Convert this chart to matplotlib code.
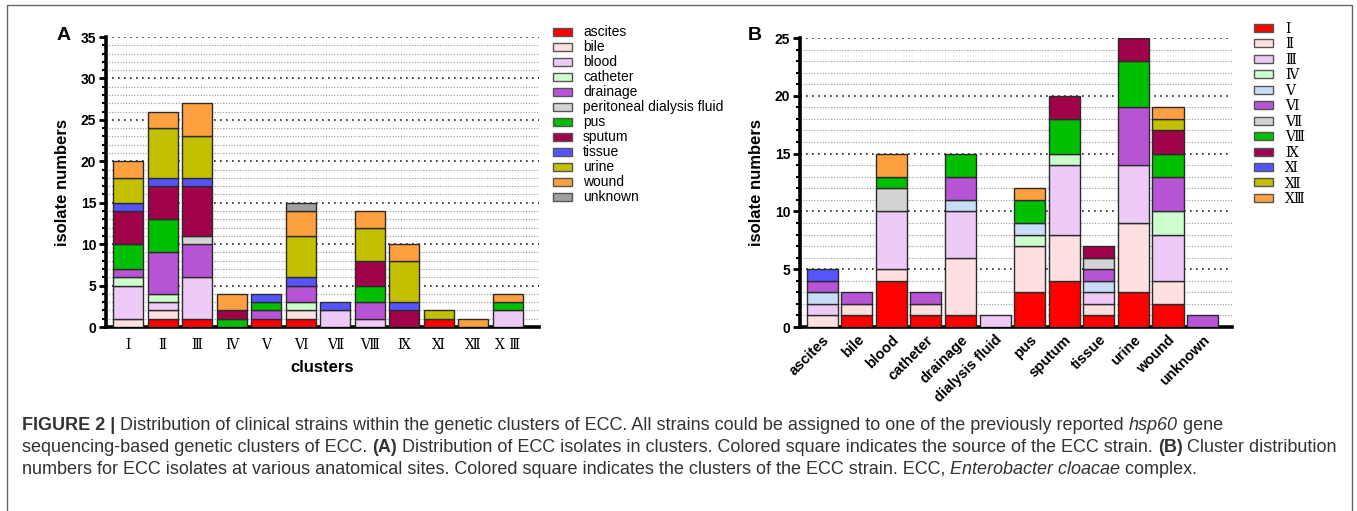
import numpy as np
import matplotlib
matplotlib.use('Agg')
import matplotlib.pyplot as plt
from matplotlib.patches import Rectangle
from matplotlib.ticker import MultipleLocator

plt.rcParams['font.family'] = ['Liberation Sans', 'DejaVu Sans']

# ---- panel A: sources stacked inside each cluster ----
sources = ['ascites', 'bile', 'blood', 'catheter', 'drainage', 'peritoneal dialysis fluid',
           'pus', 'sputum', 'tissue', 'urine', 'wound', 'unknown']
source_colors = ['#FF0000', '#FFE0E0', '#EECBF7', '#CCFFCC', '#B755D6', '#D3D3D3',
                 '#00BF00', '#A0034A', '#5555FF', '#C2C000', '#FFA040', '#A0A0A0']
clusters_a = ['Ⅰ', 'Ⅱ', 'Ⅲ', 'Ⅳ', 'Ⅴ', 'Ⅵ', 'Ⅶ', 'Ⅷ', 'Ⅸ', 'Ⅺ', 'Ⅻ', 'X Ⅲ']

ascites  = [0, 1, 1, 0, 1, 1, 0, 0, 0, 1, 0, 0]
bile     = [1, 1, 0, 0, 0, 1, 0, 0, 0, 0, 0, 0]
blood    = [4, 1, 5, 0, 0, 0, 2, 1, 0, 0, 0, 2]
catheter = [1, 1, 0, 0, 0, 1, 0, 0, 0, 0, 0, 0]
drainage = [1, 5, 4, 0, 1, 2, 0, 2, 0, 0, 0, 0]
dialysis = [0, 0, 1, 0, 0, 0, 0, 0, 0, 0, 0, 0]
pus      = [3, 4, 0, 1, 1, 0, 0, 2, 0, 0, 0, 1]
sputum   = [4, 4, 6, 1, 0, 0, 0, 3, 2, 0, 0, 0]
tissue   = [1, 1, 1, 0, 1, 1, 1, 0, 1, 0, 0, 0]
urine    = [3, 6, 5, 0, 0, 5, 0, 4, 5, 1, 0, 0]
wound    = [2, 2, 4, 2, 0, 3, 0, 2, 2, 0, 1, 1]
unknown  = [0, 0, 0, 0, 0, 1, 0, 0, 0, 0, 0, 0]
counts_a = [ascites, bile, blood, catheter, drainage, dialysis,
            pus, sputum, tissue, urine, wound, unknown]

# ---- panel B: clusters stacked inside each site ----
sites_b = ['ascites', 'bile', 'blood', 'catheter', 'drainage', 'dialysis fluid',
           'pus', 'sputum', 'tissue', 'urine', 'wound', 'unknown']
clusters_b = ['Ⅰ', 'Ⅱ', 'Ⅲ', 'Ⅳ', 'Ⅴ', 'Ⅵ', 'Ⅶ', 'Ⅷ', 'Ⅸ', 'Ⅺ', 'Ⅻ', 'ⅩⅢ']
cluster_colors = ['#FF0000', '#FFE0E0', '#EECBF7', '#CCFFCC', '#C8DEF8', '#B755D6',
                  '#D3D3D3', '#00BF00', '#A0034A', '#5555FF', '#C2C000', '#FFA040']

c1  = [0, 1, 4, 1, 1, 0, 3, 4, 1, 3, 2, 0]
c2  = [1, 1, 1, 1, 5, 0, 4, 4, 1, 6, 2, 0]
c3  = [1, 0, 5, 0, 4, 1, 0, 6, 1, 5, 4, 0]
c4  = [0, 0, 0, 0, 0, 0, 1, 1, 0, 0, 2, 0]
c5  = [1, 0, 0, 0, 1, 0, 1, 0, 1, 0, 0, 0]
c6  = [1, 1, 0, 1, 2, 0, 0, 0, 1, 5, 3, 1]
c7  = [0, 0, 2, 0, 0, 0, 0, 0, 1, 0, 0, 0]
c8  = [0, 0, 1, 0, 2, 0, 2, 3, 0, 4, 2, 0]
c9  = [0, 0, 0, 0, 0, 0, 0, 2, 1, 2, 2, 0]
c11 = [1, 0, 0, 0, 0, 0, 0, 0, 0, 0, 0, 0]
c12 = [0, 0, 0, 0, 0, 0, 0, 0, 0, 0, 1, 0]
c13 = [0, 0, 2, 0, 0, 0, 1, 0, 0, 0, 1, 0]
counts_b = [c1, c2, c3, c4, c5, c6, c7, c8, c9, c11, c12, c13]

roman_font = ['DejaVu Serif', 'Noto Sans CJK SC']

W, H = 1357, 511
fig = plt.figure(figsize=(W / 100, H / 100), dpi=100)


def px_axes(x0, y0, x1, y1):
    return fig.add_axes([x0 / W, 1 - y1 / H, (x1 - x0) / W, (y1 - y0) / H])


def stacked(ax, counts, colors, width):
    x = np.arange(len(counts[0]))
    bottom = np.zeros(len(x))
    for vals, col in zip(counts, colors):
        vals = np.array(vals, dtype=float)
        m = vals > 0
        ax.bar(x[m], vals[m], width, bottom=bottom[m], color=col,
               edgecolor='#2b2b2b', linewidth=1, zorder=3)
        bottom += vals
    return x


def style(ax, ymax):
    ax.set_ylim(0, ymax)
    ax.yaxis.set_major_locator(MultipleLocator(5))
    ax.yaxis.set_minor_locator(MultipleLocator(1))
    ax.grid(axis='y', which='major', color='#222222', lw=1.2, linestyle=(0, (1, 2.6)))
    ax.grid(axis='y', which='minor', color='#999999', lw=0.8, linestyle=(0, (1, 1.5)))
    ax.set_axisbelow(True)
    for s in ['top', 'right']:
        ax.spines[s].set_visible(False)
    ax.spines['left'].set_linewidth(2.6)
    ax.spines['bottom'].set_linewidth(2.6)
    ax.tick_params(axis='y', which='major', length=5, width=2, labelsize=10, pad=2)
    ax.tick_params(axis='y', which='minor', length=3, width=1.5)
    ax.tick_params(axis='x', length=0)
    for t in ax.get_yticklabels():
        t.set_fontweight('bold')
    ax.set_ylabel('isolate numbers', fontsize=12, fontweight='bold', labelpad=8)


# panel A
axA = px_axes(106, 37, 539, 327)
xa = stacked(axA, counts_a, source_colors, 0.87)
axA.set_xlim(-0.64, 11.91)
style(axA, 35)
axA.set_xticks(xa)
axA.set_xticklabels(clusters_a, family=roman_font, fontsize=10)
axA.tick_params(axis='x', pad=8)
axA.set_xlabel('clusters', fontsize=12, fontweight='bold', labelpad=6)

# panel B
axB = px_axes(800, 38, 1232, 327)
xb = stacked(axB, counts_b, cluster_colors, 0.9)
axB.set_xlim(-0.64, 11.85)
style(axB, 25)
axB.set_xticks(xb)
axB.set_xticklabels(sites_b, rotation=45, ha='right', rotation_mode='anchor',
                    fontsize=10.5, fontweight='bold')
axB.tick_params(axis='x', pad=4)

# overlay for legends, letters, caption, frame
ov = fig.add_axes([0, 0, 1, 1])
ov.set_xlim(0, W)
ov.set_ylim(H, 0)
ov.axis('off')

ov.add_patch(Rectangle((7, 5), 1345, 540, fill=False, edgecolor='#666666', lw=1, clip_on=False))
ov.text(57, 40, 'A', fontsize=14, fontweight='bold', va='baseline')
ov.text(748, 40, 'B', fontsize=14, fontweight='bold', va='baseline')

for i, (lab, col) in enumerate(zip(sources, source_colors)):
    y = 32 + i * 15
    ov.add_patch(Rectangle((553, y - 4), 19, 8, facecolor=col, edgecolor='#555555', lw=1))
    ov.text(583, y, lab, fontsize=10, va='center')

for i, (lab, col) in enumerate(zip(clusters_b, cluster_colors)):
    y = 28 + i * 15.45
    ov.add_patch(Rectangle((1254, y - 4), 19, 8, facecolor=col, edgecolor='#555555', lw=1))
    ov.text(1285, y + 1, lab, fontsize=10, va='center', family=roman_font)

cap_color = '#333333'
cap_size = 13
lines = [
    [('FIGURE 2 |', 'bold', 'normal'),
     (' Distribution of clinical strains within the genetic clusters of ECC. All strains could be '
      'assigned to one of the previously reported ', 'normal', 'normal'),
     ('hsp60', 'normal', 'italic'), (' gene', 'normal', 'normal')],
    [('sequencing-based genetic clusters of ECC. ', 'normal', 'normal'), ('(A)', 'bold', 'normal'),
     (' Distribution of ECC isolates in clusters. Colored square indicates the source of the ECC '
      'strain. ', 'normal', 'normal'), ('(B)', 'bold', 'normal'),
     (' Cluster distribution', 'normal', 'normal')],
    [('numbers for ECC isolates at various anatomical sites. Colored square indicates the clusters '
      'of the ECC strain. ECC, ', 'normal', 'normal'),
     ('Enterobacter cloacae', 'normal', 'italic'), (' complex.', 'normal', 'normal')],
]
for li, parts in enumerate(lines):
    ybot = 434 + li * 22
    prev = None
    for s, w, st in parts:
        if prev is None:
            prev = ov.text(22, ybot, s, fontsize=cap_size, fontweight=w, style=st,
                           color=cap_color, va='bottom')
        else:
            prev = ov.annotate(s, xy=(1, 0), xycoords=prev, fontsize=cap_size, fontweight=w,
                               style=st, color=cap_color, va='bottom', ha='left')

fig.savefig('out.png', dpi=100)
